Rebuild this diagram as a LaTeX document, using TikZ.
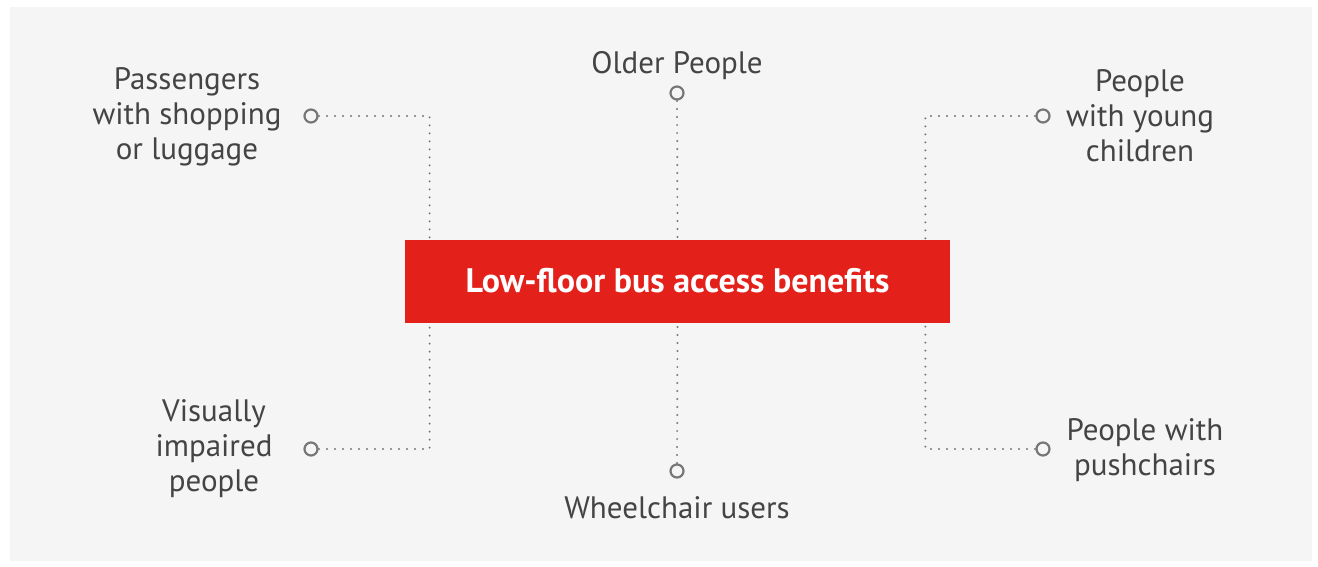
\documentclass[tikz,border=0pt]{standalone}
\usepackage{fontspec}
\setmainfont{PT Sans}
\usepackage{tikz}
\definecolor{busred}{HTML}{E3211A}
\definecolor{panel}{HTML}{F5F5F5}
\definecolor{ink}{HTML}{444444}
\definecolor{wire}{HTML}{777777}

\begin{document}
\begin{tikzpicture}[x=0.5pt,y=-0.5pt]
	\tikzstyle{label}=[text=ink,align=center,font=\fontsize{15.5}{17.5}\selectfont,inner sep=0pt]
	\tikzstyle{dot}=[circle,draw=wire,line width=1.1pt,fill=panel,minimum size=6.5pt,inner sep=0pt]
	\tikzstyle{link}=[draw=wire,line width=1.1pt,line cap=round,dash pattern=on 0pt off 4pt]
	\useasboundingbox (0,0) rectangle (1318,567);
	\fill[white] (0,0) rectangle (1318,567);
	\fill[panel] (10,7) rectangle (1312,561);
	% centre box
	\node[fill=busred,minimum width=272.5pt,minimum height=41.5pt,text=white,font=\fontsize{17}{20}\selectfont\bfseries] (box) at (677.5,281) {Low-floor bus access benefits};
	% labels
	\node[label] (older) at (677,66) {Older People};
	\node[label] (wheel) at (677,508) {Wheelchair users};
	\node[label] (shop) at (187,117) {Passengers\\with shopping\\or luggage};
	\node[label] (young) at (1140,116) {People\\with young\\children};
	\node[label] (visual) at (214,449) {Visually\\impaired\\people};
	\node[label] (push) at (1145,450) {People with\\pushchairs};
	% connectors
	\coordinate (lt) at ([xshift=12.5pt]box.north west);
	\coordinate (lb) at ([xshift=12.5pt]box.south west);
	\coordinate (rt) at ([xshift=-12.5pt]box.north east);
	\coordinate (rb) at ([xshift=-12.5pt]box.south east);
	\draw[link] (311,116) -| (lt);
	\draw[link] (311,449) -| (lb);
	\draw[link] (1043,116) -| (rt);
	\draw[link] (1043,449) -| (rb);
	\draw[link] (677,93) -- (box.north);
	\draw[link] (677,471) -- (box.south);
	\node[dot] (d-shop) at (311,116) {};
	\node[dot] (d-visual) at (311,449) {};
	\node[dot] (d-young) at (1043,116) {};
	\node[dot] (d-push) at (1043,449) {};
	\node[dot] (d-older) at (677,93) {};
	\node[dot] (d-wheel) at (677,471) {};
\end{tikzpicture}
\end{document}
